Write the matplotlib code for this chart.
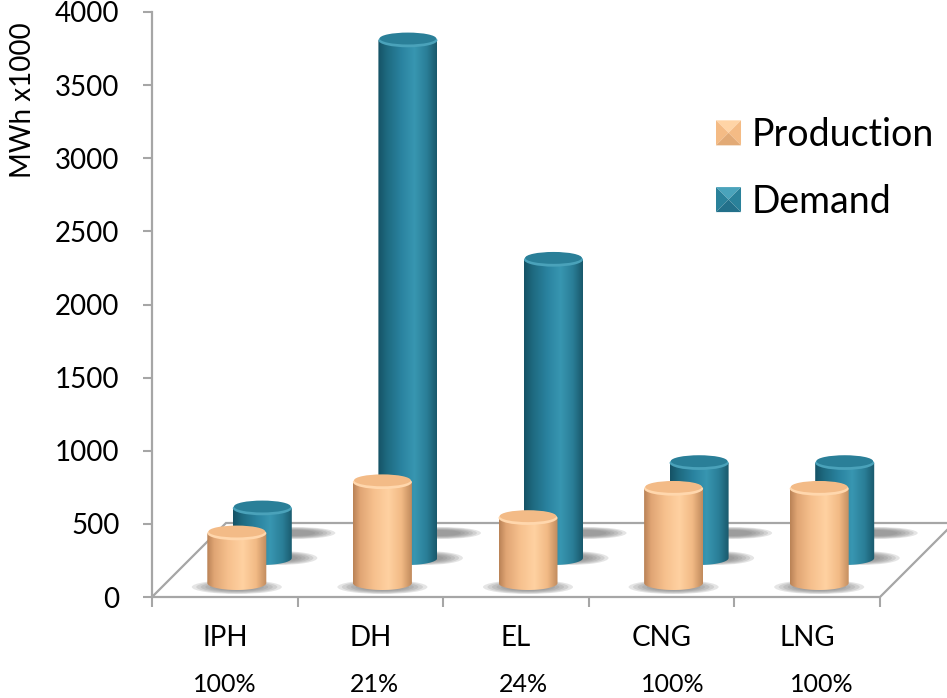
import numpy as np
import matplotlib.pyplot as plt
from matplotlib.patches import Polygon, Ellipse, Patch
from matplotlib.colors import LinearSegmentedColormap
from matplotlib.legend_handler import HandlerBase

plt.rcParams['font.family'] = ['Lato', 'DejaVu Sans']

categories = ['IPH', 'DH', 'EL', 'CNG', 'LNG']
production = [340, 690, 445, 645, 645]
demand = [340, 3540, 2040, 650, 650]
coverage = ['100%', '21%', '24%', '100%', '100%']

W, H = 947, 698
fig = plt.figure(figsize=(W / 100, H / 100), dpi=100)
ax = fig.add_axes([152 / W, 101 / H, 728 / W, 585 / H])

# one screen pixel in data units
px = 5 / 728
py = 4000 / 585

rx, ry = 29.5 * px, 7 * py      # cylinder radius / ellipse half-height
depth = 74                       # floor depth in pixels

prod_cmap = LinearSegmentedColormap.from_list('prod', [
    (0, '#b98256'), (0.12, '#e0a574'), (0.35, '#f6c08d'),
    (0.6, '#ffd1a1'), (0.82, '#f2ba85'), (1, '#c08a5c')])
dem_cmap = LinearSegmentedColormap.from_list('dem', [
    (0, '#155265'), (0.15, '#1e6a80'), (0.4, '#2a83a0'),
    (0.62, '#3896b1'), (0.83, '#2a7e97'), (1, '#19586b')])

# floor
floor = Polygon([(0, 0), (5, 0), (5 + depth * px, depth * py), (depth * px, depth * py)],
                closed=True, facecolor='white', edgecolor='#a6a6a6', lw=1.6,
                clip_on=False, zorder=1)
ax.add_patch(floor)


def shadow(xc, yc, w, h, zorder):
    for k in range(6):
        f = 1 - k * 0.1
        ax.add_patch(Ellipse((xc, yc), w * f, h * f, facecolor='#7d7d7d',
                             edgecolor='none', alpha=0.2, clip_on=False, zorder=zorder))


def cylinder(xc, base, height, cmap, top_col, rim_col, zorder):
    x0, x1 = xc - rx, xc + rx
    top = base + height
    t = np.linspace(np.pi, 2 * np.pi, 60)
    arc = np.column_stack([xc + rx * np.cos(t), base + ry * np.sin(t)])
    verts = np.vstack([[x0, top], arc, [x1, top]])
    body = Polygon(verts, closed=True, facecolor='none', edgecolor='none',
                   transform=ax.transData, zorder=zorder)
    ax.add_patch(body)
    grad = np.linspace(0, 1, 256).reshape(1, -1)
    im = ax.imshow(grad, cmap=cmap, extent=(x0, x1, base - ry, top),
                   aspect='auto', interpolation='bilinear', zorder=zorder)
    im.set_clip_path(body)
    ax.add_patch(Ellipse((xc, top), 2 * rx, 2 * ry, facecolor=rim_col,
                         edgecolor='none', zorder=zorder + 0.1))
    ax.add_patch(Ellipse((xc, top + 0.25 * ry), 2 * rx * 0.96, 2 * ry * 0.85,
                         facecolor=top_col, edgecolor='none', zorder=zorder + 0.2))


for i in range(len(categories)):
    xf = i + 0.5 + 12 * px
    xb = xf + 25.5 * px
    base_f, base_b = 14 * py, 39 * py
    # back row (demand)
    shadow(xb + 33 * px, 64 * py, 80 * px, 12 * py, 2)
    shadow(xb + 16 * px, base_b, 78 * px, 14 * py, 2)
    cylinder(xb, base_b, demand[i], dem_cmap, '#2a7f98', '#4aa2ba', 3)
    # front row (production)
    shadow(xf, 10 * py, 90 * px, 14 * py, 4)
    cylinder(xf, base_f, production[i], prod_cmap, '#f3bb87', '#ffd7ad', 5)

ax.set_xlim(0, 5)
ax.set_ylim(0, 4000)

# axes styling
for s in ['top', 'right', 'bottom']:
    ax.spines[s].set_visible(False)
ax.spines['left'].set_color('#a6a6a6')
ax.spines['left'].set_linewidth(1.6)
ax.spines['left'].set_zorder(1.5)
ax.set_yticks(np.arange(0, 4001, 500))
ax.tick_params(axis='y', direction='out', length=6.5, width=1.5, color='#a6a6a6',
               labelsize=20, pad=17)
ax.set_xticks(np.arange(0, 6), minor=True)
ax.set_xticks(np.arange(5) + 0.5)
ax.set_xticklabels(categories)
ax.tick_params(axis='x', which='minor', direction='out', length=7.5, width=1.5,
               color='#a6a6a6')
ax.tick_params(axis='x', which='major', length=0, labelsize=20, pad=20)
for i, lab in enumerate(coverage):
    ax.text(i + 0.5 + 0.025 * i, -88 * py, lab, ha='center', va='center', fontsize=18)

ax.set_ylabel('MWh x1000', fontsize=20)
ax.yaxis.set_label_coords(-116 / 728, (597 - 100) / 585)


class BevelSquare(HandlerBase):
    def __init__(self, light, mid, dark):
        super().__init__()
        self.light, self.mid, self.dark = light, mid, dark

    def create_artists(self, legend, orig_handle, xdescent, ydescent, width, height,
                       fontsize, trans):
        s = min(width, height)
        x0 = -xdescent + (width - s) / 2
        y0 = -ydescent + (height - s) / 2
        c = (x0 + s / 2, y0 + s / 2)
        a, b, d, e = (x0, y0), (x0 + s, y0), (x0 + s, y0 + s), (x0, y0 + s)
        faces = [([e, d, c], self.light), ([a, e, c], self.mid),
                 ([b, d, c], self.mid), ([a, b, c], self.dark)]
        arts = []
        for pts, col in faces:
            p = Polygon(pts, closed=True, facecolor=col, edgecolor='none', transform=trans)
            arts.append(p)
        return arts


h_prod = Patch(label='Production')
h_dem = Patch(label='Demand')
fig.legend(handles=[h_prod, h_dem], loc='upper left', bbox_to_anchor=(716 / W, 1 - 117 / H),
           frameon=False, fontsize=27, handlelength=0.667, handleheight=0.667,
           handletextpad=0.29, labelspacing=0.82, borderpad=0, borderaxespad=0,
           handler_map={h_prod: BevelSquare('#ffd4a6', '#f4bb85', '#e2aa76'),
                        h_dem: BevelSquare('#4aa3bb', '#2a819a', '#23708a')})

fig.savefig('out.png', dpi=100)
